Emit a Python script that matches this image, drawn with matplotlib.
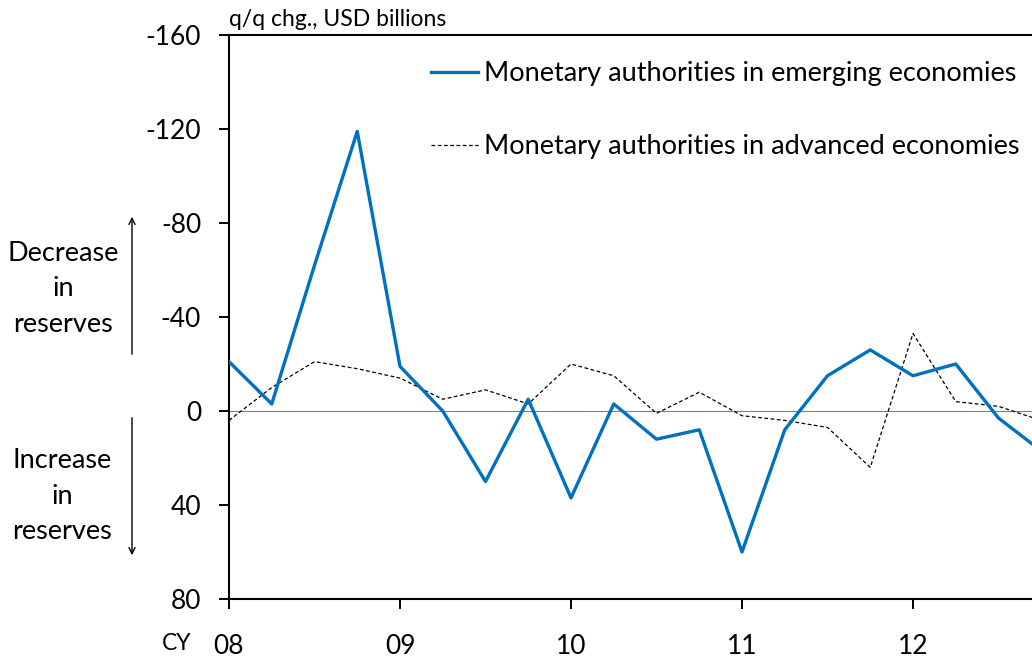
#!/usr/bin/env python3

import matplotlib
matplotlib.use("Agg")
import matplotlib.pyplot as plt
from matplotlib.patches import FancyArrowPatch


# Data (q/q change, USD billions; negative = decrease in reserves)

QUARTERS = [8.0, 8.25, 8.5, 8.75,
            9.0, 9.25, 9.5, 9.75,
            10.0, 10.25, 10.5, 10.75,
            11.0, 11.25, 11.5, 11.75,
            12.0, 12.25, 12.5, 12.75]

EMERGING = [-21, -3, -62, -119,
            -19, 0, 30, -5,
            37, -3, 12, 8,
            60, 8, -15, -26,
            -15, -20, 3, 17]

ADVANCED = [4, -10, -21, -18,
            -14, -5, -9, -3,
            -20, -15, 1, -8,
            2, 4, 7, 24,
            -33, -4, -2, 4]

YEAR_TICKS = [8, 9, 10, 11, 12]
YEAR_LABELS = ["08", "09", "10", "11", "12"]
Y_TICKS = [-160, -120, -80, -40, 0, 40, 80]

FONT = "Lato"
BLUE = "#0070C0"
W, H = 1032, 659


def main():
    plt.rcParams["font.family"] = [FONT, "DejaVu Sans"]

    fig = plt.figure(figsize=(W / 100, H / 100), dpi=100)
    ax = fig.add_axes([229 / W, 1 - 599 / H, 1.0 - 229 / W, (599 - 35) / H])

    ax.axhline(0, color="#808080", lw=0.8, zorder=1)

    ax.plot(QUARTERS, EMERGING, color=BLUE, lw=2.4,
            label="Monetary authorities in emerging economies", zorder=3)
    ax.plot(QUARTERS, ADVANCED, color="black", lw=0.9,
            linestyle=(0, (3, 2)),
            label="Monetary authorities in advanced economies", zorder=2)

    ax.set_xlim(8.0, 8.0 + (W - 229) / 171)
    ax.set_ylim(80, -160)

    ax.set_yticks(Y_TICKS)
    ax.set_yticklabels([str(v) for v in Y_TICKS], fontsize=19)
    ax.set_xticks(YEAR_TICKS)
    ax.set_xticklabels(YEAR_LABELS, fontsize=19)

    ax.tick_params(axis="y", direction="out", length=7, width=1.4, pad=13)
    ax.tick_params(axis="x", direction="out", length=7, width=1.4, pad=18)

    ax.spines["right"].set_visible(False)
    for s in ["left", "bottom", "top"]:
        ax.spines[s].set_linewidth(1.5)

    fig.legend(loc="upper left", bbox_to_anchor=(431 / W, 1 - 61 / H),
               bbox_transform=fig.transFigure,
               frameon=False, fontsize=19.5, handlelength=1.75,
               handletextpad=0.22, labelspacing=1.78,
               borderpad=0, borderaxespad=0)

    # Unit label
    fig.text(229 / W, 1 - 30 / H, "q/q chg., USD billions", fontsize=16.5,
             ha="left", va="bottom")

    # CY label
    fig.text(177 / W, 1 - 644 / H, "CY", fontsize=16.5,
             ha="center", va="center")

    # Side annotations
    fig.text(63 / W, 1 - 289 / H, "Decrease\nin\nreserves", fontsize=19.5,
             ha="center", va="center", linespacing=1.52)
    fig.text(62 / W, 1 - 496 / H, "Increase\nin\nreserves", fontsize=19.5,
             ha="center", va="center", linespacing=1.52)

    fig.add_artist(FancyArrowPatch(
        (132 / W, 1 - 357 / H), (132 / W, 1 - 214 / H),
        transform=fig.transFigure, arrowstyle="->", mutation_scale=11,
        lw=1.0, color="black"))
    fig.add_artist(FancyArrowPatch(
        (132 / W, 1 - 415 / H), (132 / W, 1 - 558 / H),
        transform=fig.transFigure, arrowstyle="->", mutation_scale=11,
        lw=1.0, color="black"))

    fig.savefig("out.png", dpi=100)
    plt.close(fig)


if __name__ == "__main__":
    main()
